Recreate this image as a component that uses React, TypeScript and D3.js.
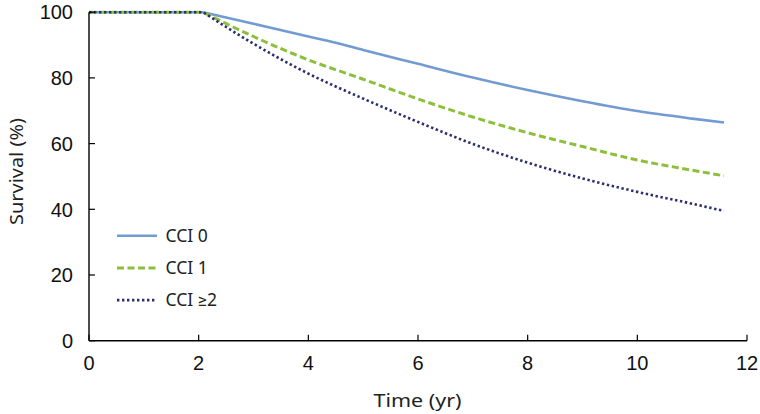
import React from "react";
import * as d3 from "d3";

const times0 = [0, 2.08, 3, 4, 4.5, 5, 6, 7, 8, 9, 10, 11, 11.58];
const cci0 = [100, 100, 96.5, 92.6, 90.7, 88.5, 84.3, 80.1, 76.3, 72.9, 69.9, 67.6, 66.4];
const times1 = [0, 2.08, 3, 4, 5, 6, 7, 8, 9, 10, 11, 11.58];
const cci1 = [100, 100, 92.6, 85.5, 79.6, 73.6, 68.1, 63.3, 59.1, 55.0, 51.9, 50.2];
const times2 = [0, 2.08, 3, 4, 5, 6, 7, 8, 9, 10, 11, 11.58];
const cci2 = [100, 100, 90.4, 81.3, 73.7, 66.6, 59.9, 54.2, 49.4, 45.3, 41.7, 39.5];
const xTicks = [0, 2, 4, 6, 8, 10, 12];
const yTicks = [0, 20, 40, 60, 80, 100];
const seriesNames = ["CCI 0", "CCI 1", "CCI \u22652"];

const W = 760, H = 414;

export default function App() {
  const x = d3.scaleLinear().domain([0, 12]).range([89, 747]);
  const y = d3.scaleLinear().domain([0, 100]).range([340.7, 12.2]);
  const smooth = d3.line<[number, number]>().x(d => x(d[0])).y(d => y(d[1])).curve(d3.curveMonotoneX);
  const pathFor = (t: number[], v: number[]) => {
    const pts = t.map((tt, j) => [tt, v[j]] as [number, number]);
    const k = v.findIndex((val, j) => j > 0 && val < 100) - 1;
    const head = `M${x(pts[0][0])},${y(pts[0][1])}L${x(pts[k][0])},${y(pts[k][1])}`;
    const tail = (smooth(pts.slice(k)) || "").replace(/^M/, "L");
    return head + tail;
  };
  const series = [
    { name: seriesNames[0], t: times0, v: cci0, color: "#729bd1", width: 2.6, dash: "" },
    { name: seriesNames[1], t: times1, v: cci1, color: "#8dbf3c", width: 3, dash: "7,3.5" },
    { name: seriesNames[2], t: times2, v: cci2, color: "#2a2f6e", width: 2.6, dash: "2.4,2.6" },
  ];
  const tickFont = "'Liberation Sans', Arial, sans-serif";
  const titleFont = "'Noto Sans', Roboto, sans-serif";
  return (
    <svg width={W} height={H} style={{ position: "absolute", left: 0, top: 0, background: "#fff" }}>
      {series.map((s, i) => (
        <path key={i} d={pathFor(s.t, s.v)}
          fill="none" stroke={s.color} strokeWidth={s.width} strokeDasharray={s.dash || undefined} />
      ))}
      <line x1={x(0)} x2={x(12)} y1={y(0)} y2={y(0)} stroke="#000" strokeWidth={1.4} />
      <line x1={x(0)} x2={x(0)} y1={y(0)} y2={y(100)} stroke="#000" strokeWidth={1.4} />
      {xTicks.map(t => (
        <g key={t}>
          <line x1={x(t)} x2={x(t)} y1={y(0)} y2={y(0) - 6} stroke="#000" strokeWidth={1.2} />
          <text x={x(t)} y={370} textAnchor="middle" fontFamily={tickFont} fontSize={20} fill="#111">{t}</text>
        </g>
      ))}
      {yTicks.map(v => (
        <g key={v}>
          <line x1={x(0)} x2={x(0) + 6} y1={y(v)} y2={y(v)} stroke="#000" strokeWidth={1.2} />
          <text x={73} y={y(v) + 7.2} textAnchor="end" fontFamily={tickFont} fontSize={20} fill="#111">{v}</text>
        </g>
      ))}
      <text x={417.5} y={406.5} textAnchor="middle" fontFamily={titleFont} fontSize={18.5}
        textLength={88} lengthAdjust="spacingAndGlyphs" fill="#222">Time (yr)</text>
      <text transform={`translate(23,${171.5}) rotate(-90)`} textAnchor="middle" fontFamily={titleFont} fontSize={18.5}
        textLength={107} lengthAdjust="spacingAndGlyphs" fill="#222">Survival (%)</text>
      {series.map((s, i) => {
        const ly = 235.7 + i * 32.2;
        return (
          <g key={i}>
            <line x1={117} x2={157} y1={ly} y2={ly} stroke={s.color} strokeWidth={s.width} strokeDasharray={s.dash || undefined} />
            <text x={165.5} y={ly + 6.3} fontFamily={titleFont} fontSize={17.5} fill="#222">{s.name}</text>
          </g>
        );
      })}
    </svg>
  );
}
